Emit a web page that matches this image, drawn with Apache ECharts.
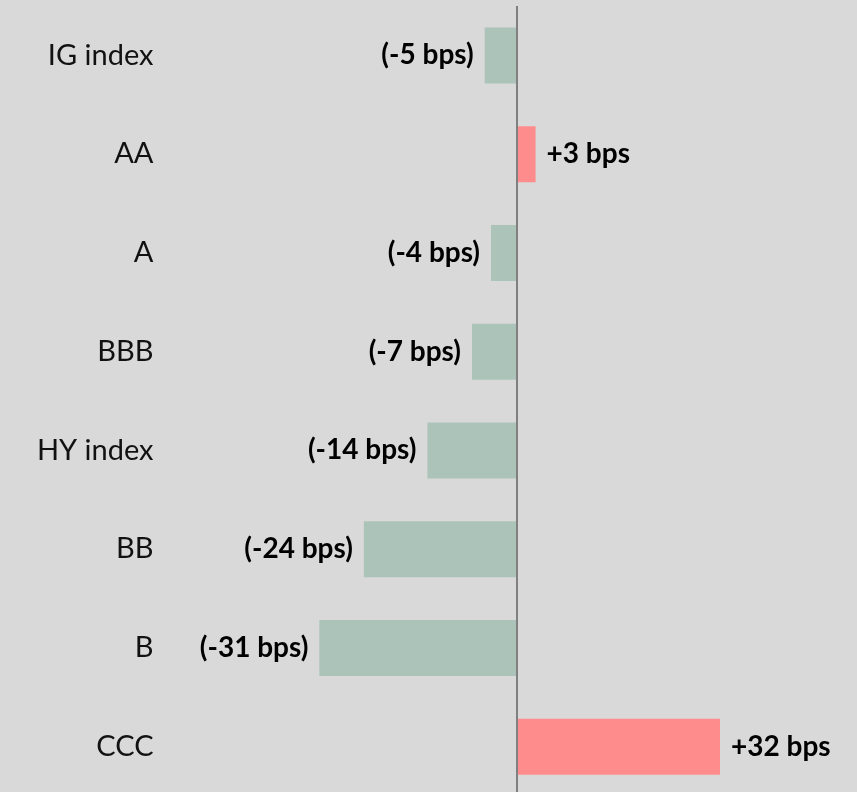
<!DOCTYPE html>
<html>
<head>
<meta charset="utf-8">
<script src="https://cdn.jsdelivr.net/npm/echarts@6/dist/echarts.min.js"></script>
<style>
  html, body { margin: 0; padding: 0; background: #d9d9d9; overflow: hidden; }
  #main { width: 857px; height: 796px; }
</style>
</head>
<body>
<div id="main"></div>
<script>
var categories = ['IG index', 'AA', 'A', 'BBB', 'HY index', 'BB', 'B', 'CCC'];
var spreadChange = [-5, 3, -4, -7, -14, -24, -31, 32];

var GREEN = '#abc3b9';
var RED = '#ff8c8c';

var chart = echarts.init(document.getElementById('main'));

var barData = spreadChange.map(function (v) {
  return {
    value: v,
    itemStyle: { color: v < 0 ? GREEN : RED },
    label: { position: v < 0 ? 'left' : 'right' }
  };
});

var option = {
  backgroundColor: '#d9d9d9',
  animation: false,
  // the div is a little taller than the window so the last band runs off the bottom
  grid: { left: 198.5, width: 636, top: 6, bottom: 0, containLabel: false },
  xAxis: {
    type: 'value',
    min: -50,
    max: 50,
    show: false
  },
  yAxis: {
    type: 'category',
    data: categories,
    inverse: true,
    axisLine: { show: false },
    axisTick: { show: false },
    axisLabel: {
      margin: 45,
      fontFamily: 'Lato',
      fontSize: 29,
      color: '#111'
    }
  },
  series: [{
    type: 'bar',
    data: barData,
    barWidth: 56,
    label: {
      show: true,
      distance: 11,
      fontFamily: 'Lato',
      fontSize: 28,
      fontWeight: 'bold',
      color: '#000',
      formatter: function (p) {
        return p.value < 0 ? '(' + p.value + ' bps)' : '+' + p.value + ' bps';
      }
    },
    markLine: {
      silent: true,
      symbol: ['none', 'none'],
      label: { show: false },
      lineStyle: { color: '#808080', width: 2, type: 'solid' },
      data: [{ xAxis: 0 }]
    }
  }]
};

chart.setOption(option);
</script>
</body>
</html>
